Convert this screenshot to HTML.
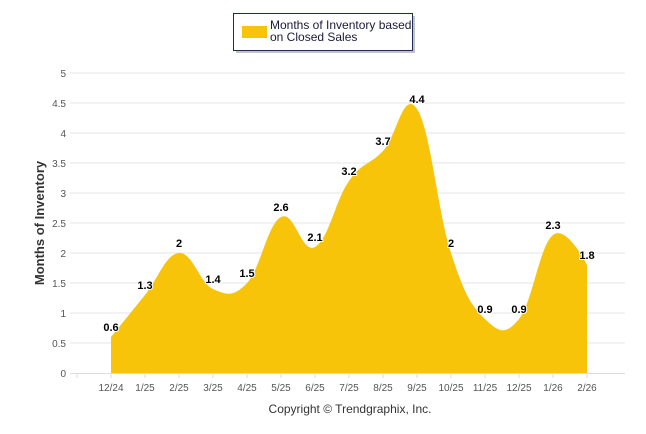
<!DOCTYPE html>
<html><head><meta charset="utf-8"><style>
html,body{margin:0;padding:0;background:#fff;}
svg{display:block;font-family:"Liberation Sans",Arial,sans-serif;}
</style></head><body>
<svg id="chart" width="646" height="434">
<g id="grid"></g>
<g id="area"></g>
<g id="axes"></g>
<g id="labels"></g>
<text x="44" y="223" transform="rotate(-90 44 223)" text-anchor="middle" font-size="13" font-weight="bold" fill="#333">Months of Inventory</text>
<text x="350" y="413" text-anchor="middle" font-size="12" fill="#333">Copyright © Trendgraphix, Inc.</text>
<g>
<rect x="236" y="16" width="179" height="37" fill="#888" opacity="0.5"/>
<rect x="233.5" y="13.5" width="179" height="37" fill="#fff" stroke="#1f2d4d" stroke-width="1"/>
<rect x="242" y="26" width="25" height="12" fill="#f7c40a"/>
<text x="270" y="29" font-size="12" fill="#1a1a3a">Months of Inventory based</text>
<text x="270" y="41" font-size="12" fill="#1a1a3a">on Closed Sales</text>
</g>
</svg>
<script>
const categories=["12/24","1/25","2/25","3/25","4/25","5/25","6/25","7/25","8/25","9/25","10/25","11/25","12/25","1/26","2/26"];
const values=[0.6,1.3,2,1.4,1.5,2.6,2.1,3.2,3.7,4.4,2,0.9,0.9,2.3,1.8];
const yTicks=[0,0.5,1,1.5,2,2.5,3,3.5,4,4.5,5];
const NS="http://www.w3.org/2000/svg";
const X0=111,DX=34,Y0=373,YS=60,L=70,R=625;
const xs=i=>X0+i*DX, ys=v=>Y0-v*YS;
function mk(t,a,p){const e=document.createElementNS(NS,t);for(const k in a)e.setAttribute(k,a[k]);p.appendChild(e);return e;}
const grid=document.getElementById('grid'),axes=document.getElementById('axes'),lab=document.getElementById('labels'),area=document.getElementById('area');
yTicks.forEach(v=>{
 if(v>0){const g=mk('line',{x1:L,x2:R,y1:ys(v),y2:ys(v),stroke:'#e6e6e6','stroke-width':1},grid);
 
 }
 const t=mk('text',{x:66,y:ys(v)+4,'text-anchor':'end','font-size':10,fill:'#555'},axes);
 
 
 t.textContent=v;
});
mk('line',{x1:L,x2:R,y1:Y0+0.5,y2:Y0+0.5,stroke:'#ddd'},axes);
for(let i=-1;i<categories.length;i++){mk('line',{x1:xs(i),x2:xs(i),y1:Y0,y2:Y0+5,stroke:'#ddd'},axes);}
categories.forEach((c,i)=>{
 const t=mk('text',{x:xs(i),y:Y0+18,'text-anchor':'middle','font-size':10,fill:'#555'},axes);
 
 
 t.textContent=c;
});
const pts=values.map((v,i)=>[xs(i),ys(v)]);
const sm=1.5,den=sm+1;
let ctrl=pts.map((p,i)=>{
 if(i===0||i===pts.length-1)return null;
 const [px,py]=p,[lx,ly]=pts[i-1],[nx,ny]=pts[i+1];
 let lcx=(sm*px+lx)/den,lcy=(sm*py+ly)/den,rcx=(sm*px+nx)/den,rcy=(sm*py+ny)/den;
 const corr=((rcy-lcy)*(rcx-px))/(rcx-lcx)+py-rcy;
 lcy+=corr;rcy+=corr;
 return [lcx,lcy,rcx,rcy];
});
let d=`M${pts[0][0]},${Y0} L${pts[0][0]},${pts[0][1]}`;
for(let i=1;i<pts.length;i++){
 const a=ctrl[i-1]?[ctrl[i-1][2],ctrl[i-1][3]]:pts[i-1];
 const b=ctrl[i]?[ctrl[i][0],ctrl[i][1]]:pts[i];
 d+=` C${a[0]},${a[1]} ${b[0]},${b[1]} ${pts[i][0]},${pts[i][1]}`;
}
d+=` L${pts[pts.length-1][0]},${Y0} Z`;
const ap=mk('path',{d:d,fill:'#f7c40a'},area);


values.forEach((v,i)=>{
 const t=mk('text',{x:xs(i),y:ys(v)-6,'text-anchor':'middle','font-size':11,'font-weight':'bold',fill:'#000',stroke:'#fff','stroke-width':2,'paint-order':'stroke'},lab);
 
 
 t.textContent=v;
});
</script>
</body></html>
